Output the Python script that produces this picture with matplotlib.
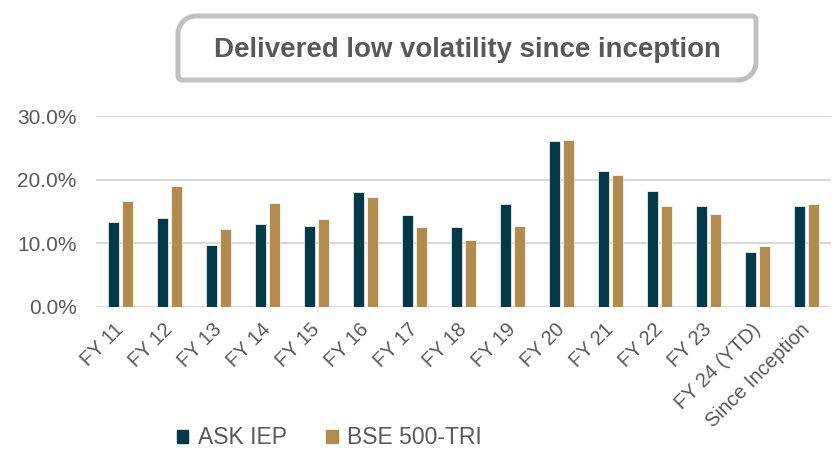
import numpy as np
import matplotlib
matplotlib.use("Agg")
import matplotlib.pyplot as plt
from matplotlib.path import Path
from matplotlib.patches import PathPatch, Patch

plt.rcParams['font.family'] = ['Liberation Sans', 'DejaVu Sans']

categories = ["FY 11", "FY 12", "FY 13", "FY 14", "FY 15", "FY 16", "FY 17", "FY 18",
              "FY 19", "FY 20", "FY 21", "FY 22", "FY 23", "FY 24 (YTD)", "Since Inception"]
ask_iep = [13.4, 14.0, 9.7, 13.1, 12.8, 18.1, 14.4, 12.5, 16.1, 26.0, 21.4, 18.2, 15.8, 8.6, 15.9]
bse_500 = [16.7, 19.0, 12.3, 16.4, 13.8, 17.2, 12.6, 10.5, 12.7, 26.3, 20.7, 15.9, 14.6, 9.6, 16.2]
y_ticks = [0, 10, 20, 30]

c_ask = '#033a49'
c_bse = '#b28c4c'
c_text = '#595959'
c_grid = '#d9d9d9'

W, H = 836, 450
fig = plt.figure(figsize=(W / 100, H / 100), dpi=100)
ax = fig.add_axes([96 / W, 1 - 307 / H, 735 / W, 191 / H])

x = np.arange(len(categories))
bw = 0.23
gap = 0.03
ax.bar(x - bw / 2 - gap, ask_iep, width=bw, color=c_ask, edgecolor='white', linewidth=0.5, zorder=3)
ax.bar(x + bw / 2 + gap, bse_500, width=bw, color=c_bse, edgecolor='white', linewidth=0.5, zorder=3)

ax.set_xlim(-0.5, len(categories) - 0.5)
ax.set_ylim(0, 30)
ax.set_yticks(y_ticks)
ax.set_yticklabels([f"{v:.1f}%" for v in y_ticks], fontsize=15, color=c_text)
ax.set_xticks(x)
ax.set_xticklabels(categories, rotation=45, ha='right', va='center', rotation_mode='anchor',
                   fontsize=14.5, color=c_text)
ax.tick_params(length=0)
ax.tick_params(axis='y', pad=14)
ax.tick_params(axis='x', pad=14)
ax.grid(axis='y', color=c_grid, linewidth=1.6, zorder=0)
for s in ax.spines.values():
    s.set_visible(False)

# title box: large rounding top-left and bottom-right, small on the other two
x0, x1, y0, y1 = 178, 756, 16, 80
R, r = 18, 4
k = np.linspace(0, np.pi / 2, 14)
pts = []
pts += [(x1 - r + r * np.sin(t), y0 + r - r * np.cos(t)) for t in k]        # top-right
pts += [(x1 - R + R * np.cos(t), y1 - R + R * np.sin(t)) for t in k]        # bottom-right
pts += [(x0 + r - r * np.sin(t), y1 - r + r * np.cos(t)) for t in k]        # bottom-left
pts += [(x0 + R - R * np.cos(t), y0 + R - R * np.sin(t)) for t in k]        # top-left
pts += [pts[0]]
pts = [(px / W, 1 - py / H) for px, py in pts]
codes = [Path.MOVETO] + [Path.LINETO] * (len(pts) - 2) + [Path.CLOSEPOLY]
box = PathPatch(Path(pts, codes), transform=fig.transFigure, facecolor='white',
                edgecolor='#c0c0c0', linewidth=3.6)
fig.patches.append(box)
fig.text(467 / W, 1 - 57 / H, "Delivered low volatility since inception", ha='center', va='baseline',
         fontsize=19.9, fontweight='bold', color=c_text)

handles = [Patch(color=c_ask, label='ASK IEP'), Patch(color=c_bse, label='BSE 500-TRI')]
fig.legend(handles=handles, loc='center', bbox_to_anchor=(329 / W, 1 - 438 / H), ncol=2,
           frameon=False, fontsize=16.5, labelcolor=c_text, handlelength=0.52, handleheight=0.52,
           handletextpad=0.4, columnspacing=1.7)

fig.savefig('out.png', dpi=100)
